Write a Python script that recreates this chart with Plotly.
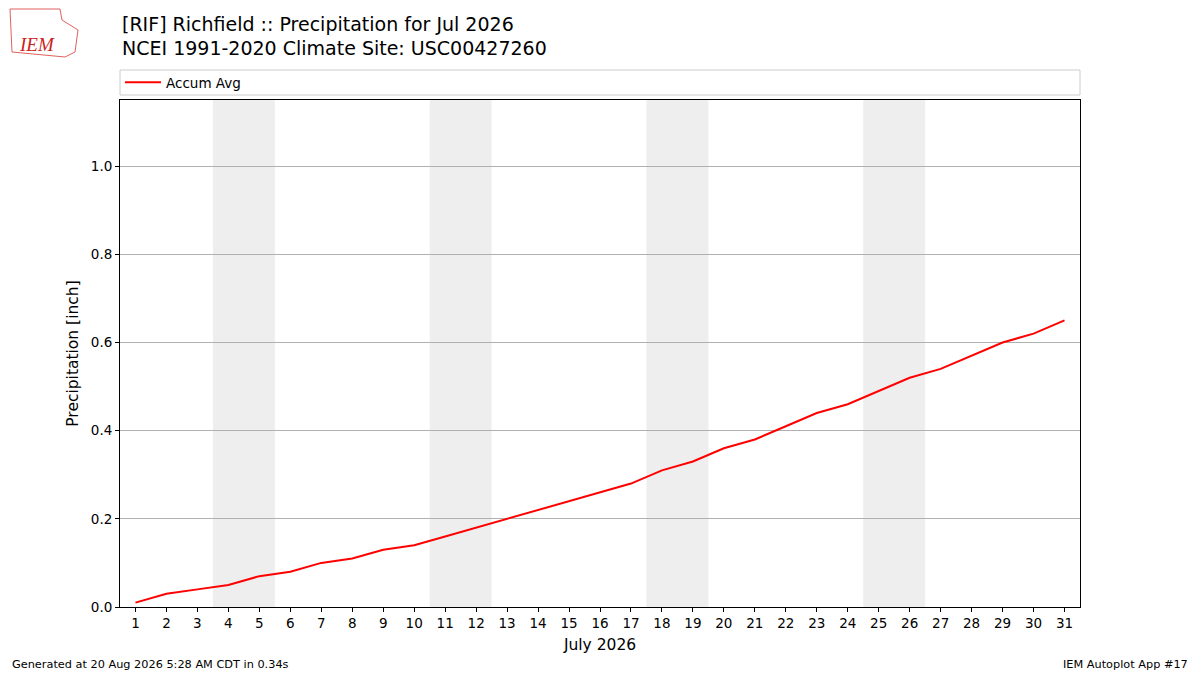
import plotly.graph_objects as go

days = list(range(1, 32))
accum_avg = [0.01, 0.03, 0.04, 0.05, 0.07, 0.08, 0.10, 0.11, 0.13, 0.14,
             0.16, 0.18, 0.20, 0.22, 0.24, 0.26, 0.28, 0.31, 0.33, 0.36,
             0.38, 0.41, 0.44, 0.46, 0.49, 0.52, 0.54, 0.57, 0.60, 0.62, 0.65]
weekend_starts = [4, 11, 18, 25]
title_lines = ["[RIF] Richfield :: Precipitation for Jul 2026",
               "NCEI 1991-2020 Climate Site: USC00427260"]
yticks = [0.0, 0.2, 0.4, 0.6, 0.8, 1.0]

W, H = 1200, 675
L, R, T, B = 120, 120, 100, 68
ph = H - T - B

def py(pix):
    return (H - B - pix) / ph

FONT = "DejaVu Sans"

fig = go.Figure()
fig.add_trace(go.Scatter(x=days, y=accum_avg, mode="lines", name="Accum Avg",
                         line=dict(color="red", width=2)))

shapes = []
for d in weekend_starts:
    shapes.append(dict(type="rect", xref="x", yref="paper", x0=d - 0.5, x1=d + 1.5,
                       y0=0, y1=1, fillcolor="#eeeeee", line=dict(width=0), layer="below"))
# legend frame
shapes.append(dict(type="rect", xref="paper", yref="paper", x0=0, x1=1,
                   y0=py(95), y1=py(70), line=dict(color="#cccccc", width=1),
                   fillcolor="white", layer="below"))

annotations = [
    dict(text=title_lines[0], xref="paper", yref="paper", x=0, y=py(24), xanchor="left",
         yanchor="middle", showarrow=False, font=dict(family=FONT, size=19, color="black")),
    dict(text=title_lines[1], xref="paper", yref="paper", x=0, y=py(48), xanchor="left",
         yanchor="middle", showarrow=False, font=dict(family=FONT, size=19, color="black")),
    dict(text="Generated at 20 Aug 2026 5:28 AM CDT in 0.34s", xref="paper", yref="paper",
         x=-110 / 960, y=py(664), xanchor="left", yanchor="middle", showarrow=False,
         font=dict(family=FONT, size=11.3, color="black")),
    dict(text="IEM Autoplot App #17", xref="paper", yref="paper",
         x=1 + 110 / 960, y=py(664), xanchor="right", yanchor="middle", showarrow=False,
         font=dict(family=FONT, size=11.3, color="black")),
    dict(text="<i>IEM</i>", xref="paper", yref="paper", x=-83 / 960, y=py(44),
         xanchor="center", yanchor="middle", showarrow=False,
         font=dict(family="Liberation Serif", size=19, color="#cc2222")),
]

fig.update_layout(
    width=W, height=H,
    margin=dict(l=L, r=R, t=T, b=B),
    paper_bgcolor="white", plot_bgcolor="white",
    font=dict(family=FONT, size=13.5, color="black"),
    shapes=shapes, annotations=annotations,
    showlegend=True,
    legend=dict(x=0.0, y=(py(70) + py(95)) / 2, xanchor="left", yanchor="middle",
                bgcolor="rgba(0,0,0,0)", borderwidth=0, itemwidth=36,
                font=dict(family=FONT, size=13.5)),
    xaxis=dict(range=[0.5, 31.5], tickmode="array", tickvals=days,
               ticktext=[str(d) for d in days], showgrid=False, zeroline=False,
               showline=True, linecolor="black", linewidth=1, mirror=True,
               ticks="outside", ticklen=4, tickcolor="black",
               title=dict(text="July 2026", font=dict(family=FONT, size=15.5), standoff=8)),
    yaxis=dict(range=[0, 1.15], tickmode="array", tickvals=yticks,
               ticktext=[f"{v:.1f}" for v in yticks], showgrid=True, gridcolor="#b0b0b0",
               gridwidth=1, zeroline=False, showline=True, linecolor="black", linewidth=1,
               mirror=True, ticks="outside", ticklen=4, tickcolor="black",
               title=dict(text="Precipitation [inch]", font=dict(family=FONT, size=15.5),
                          standoff=8)),
)

# simple logo outline
fig.add_shape(type="path", xref="paper", yref="paper",
              path=(f"M {-110/960} {py(9)} L {-60/960} {py(9)} L {-58/960} {py(20)} "
                    f"L {-42/960} {py(30)} L {-45/960} {py(52)} L {-55/960} {py(57)} "
                    f"L {-108/960} {py(52)} Z"),
              line=dict(color="#e06060", width=1), fillcolor="rgba(0,0,0,0)")

fig.write_html("out.html", config={"displayModeBar": False},
               post_script="document.body.style.margin='0';document.body.style.overflow='hidden';")
